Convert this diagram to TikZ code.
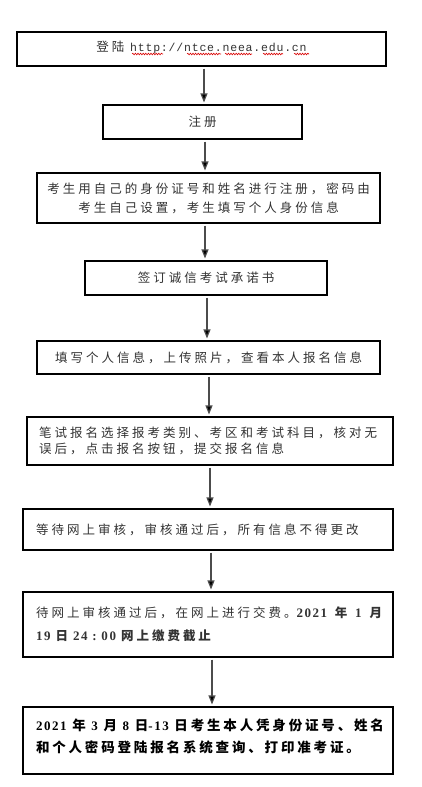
\documentclass[tikz,border=0pt]{standalone}
\usepackage{fontspec}
\newfontfamily\cjk{Noto Sans CJK SC}[LetterSpace=24]
\newfontfamily\cjkc{Noto Sans CJK SC}[LetterSpace=21]
\newfontfamily\urlf{Liberation Mono}[LetterSpace=7]
\newfontfamily\numf{Liberation Serif}[LetterSpace=12]
\usetikzlibrary{arrows.meta,decorations.pathmorphing}
\newcommand{\dg}[1]{{\numf\bfseries\fontsize{13}{20}\selectfont #1}}
\begin{document}
\begin{tikzpicture}[x=1pt,y=-1pt,
  box/.style={draw=black, line width=1.1pt, inner ysep=0pt, text=black!80},
  cbox/.style={box, align=center, inner xsep=0pt, font=\cjk\fontsize{12.5}{19}\selectfont},
  lbox/.style={box, align=left, inner xsep=13pt, minimum width=370, text width=344},
  arr/.style={draw=black!70, line width=1.2pt, -{Triangle[width=7pt,length=9pt,fill=black]}, shorten <=2pt, shorten >=2pt},
  wavy/.style={draw=red!85!black, line width=0.6pt, decorate, decoration={snake, amplitude=0.8pt, segment length=2.6pt}}]
\useasboundingbox[fill=white] (0,0) rectangle (422,787);

\node[cbox, minimum width=369, minimum height=34, text height=11pt, text depth=6.5pt] (b1) at (201.5,49)
  {登陆 {\urlf\fontsize{11.5}{12}\selectfont http://ntce.neea.edu.cn}};
\node[cbox, minimum width=199, minimum height=34] (b2) at (202.5,122) {注册};
\node[cbox, minimum width=343, minimum height=50] (b3) at (208.5,198)
  {考生用自己的身份证号和姓名进行注册，密码由\\考生自己设置，考生填写个人身份信息};
\node[cbox, minimum width=242, minimum height=34] (b4) at (206,278) {签订诚信考试承诺书};
\node[cbox, minimum width=343, minimum height=33] (b5) at (208.5,357.5)
  {填写个人信息，上传照片，查看本人报名信息};
\node[lbox, inner xsep=12pt, minimum width=366, text width=342, minimum height=48, font=\cjk\fontsize{12.5}{16}\selectfont] (b6) at (210,441)
  {\mbox{笔试报名选择报考类别、考区和考试科目，核对无}\\\mbox{误后，点击报名按钮，提交报名信息}};
\node[lbox, minimum height=41, font=\cjk\fontsize{12.5}{16}\selectfont] (b7) at (208,529.5)
  {\mbox{等待网上审核，审核通过后，所有信息不得更改}};
\node[lbox, minimum height=65, font=\cjk\fontsize{12.5}{23}\selectfont] (b8) at (208,624.5)
  {\hbox to 346pt{待网上审核通过后，在网上进行交费。\dg{2021}\hfil{\bfseries 年}\hfil\dg{1}\hfil{\bfseries 月}}\\
   \hbox to 175pt{\dg{19}\hfil{\bfseries 日}\hfil\hbox to 43pt{\dg{24}\hfil\dg{:}\hfil\dg{00}}\hfil{\bfseries 网上缴费截止}}};
\node[lbox, minimum height=67, font=\cjkc\bfseries\fontsize{13.5}{22}\selectfont, text=black] (b9) at (208,740.5)
  {\hbox to 348pt{\dg{2021}\hfil 年\hfil\dg{3}\hfil 月\hfil\dg{8}\hfil 日\dg{-13}\hfil 日考生本人凭身份证号、姓名}\\
   \mbox{和个人密码登陆报名系统查询、打印准考证。}\\[-13pt]\mbox{}};

\draw[arr] (b1.south -| 204,0) -- (b2.north -| 204,0);
\draw[arr] (b2.south -| 205,0) -- (b3.north -| 205,0);
\draw[arr] (b3.south -| 205,0) -- (b4.north -| 205,0);
\draw[arr] (b4.south -| 207,0) -- (b5.north -| 207,0);
\draw[arr] (b5.south -| 209,0) -- (b6.north -| 209,0);
\draw[arr] (b6.south -| 210,0) -- (b7.north -| 210,0);
\draw[arr] (b7.south -| 211,0) -- (b8.north -| 211,0);
\draw[arr] (b8.south -| 212,0) -- (b9.north -| 212,0);

\draw[wavy] (132,54) -- (163,54);
\draw[wavy] (187,54) -- (221,54);
\draw[wavy] (225,54) -- (252,54);
\draw[wavy] (263,54) -- (283,54);
\draw[wavy] (294,54) -- (309,54);
\end{tikzpicture}
\end{document}
